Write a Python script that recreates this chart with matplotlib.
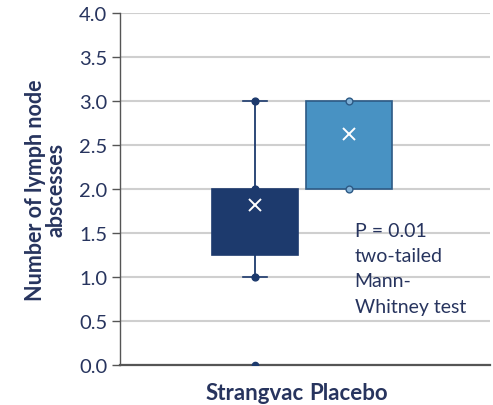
import matplotlib
matplotlib.use("Agg")
import matplotlib.pyplot as plt

# group summaries (number of lymph node abscesses)
groups = ["Strangvac", "Placebo"]
q1 = [1.25, 2.0]
q3 = [2.0, 3.0]
medians = [2.0, 3.0]
whisker_lo = [1.0, 2.0]
whisker_hi = [3.0, 3.0]
means = [1.82, 2.63]
outliers = [[0.0], []]
points = [[1.0, 2.0, 3.0], [2.0, 3.0]]

yticks = [0.0, 0.5, 1.0, 1.5, 2.0, 2.5, 3.0, 3.5, 4.0]

box_fill = ["#1d3a6d", "#4892c3"]
box_edge = ["#1d3a6d", "#2d5a85"]
dot_fill = ["#1d3a6d", "#7fb0d6"]
text_col = "#27345e"

plt.rcParams["font.family"] = ["Lato", "DejaVu Sans"]

fig = plt.figure(figsize=(4.93, 4.06), dpi=100)
ax = fig.add_axes([0.2434, 0.0985, 0.7506, 0.867])

positions = [1, 2]
for i, name in enumerate(groups):
    stats = [{
        "label": name,
        "q1": q1[i], "q3": q3[i], "med": medians[i],
        "whislo": whisker_lo[i], "whishi": whisker_hi[i],
        "mean": means[i], "fliers": outliers[i],
    }]
    ax.bxp(stats, positions=[positions[i]], widths=0.915, patch_artist=True,
           showmeans=True, showcaps=True, capwidths=0.26, manage_ticks=False,
           boxprops=dict(facecolor=box_fill[i], edgecolor=box_edge[i], lw=1.2),
           medianprops=dict(color=box_edge[i], lw=1.0, alpha=0),
           whiskerprops=dict(color=box_fill[i], lw=1.3),
           capprops=dict(color="#1d3a6d", lw=1.2, alpha=1 if i == 0 else 0),
           meanprops=dict(marker="x", markeredgecolor="white", markersize=9,
                          markeredgewidth=1.4),
           flierprops=dict(marker="o", markerfacecolor=box_fill[i],
                           markeredgecolor=box_fill[i], markersize=4.5),
           zorder=3)
    ax.scatter([positions[i]] * len(points[i]), points[i], s=24,
               facecolor=dot_fill[i], edgecolor=box_edge[i], lw=1.0, zorder=4)

ax.set_xlim(-0.436, 3.5)
ax.set_ylim(0, 4.0)
ax.set_yticks(yticks)
ax.set_yticklabels([f"{v:.1f}" for v in yticks], fontsize=14.5, color=text_col)
ax.set_xticks(positions)
ax.set_xticklabels(groups, fontsize=16, fontweight="bold", color=text_col)
ax.tick_params(axis="x", length=0, pad=12)
ax.tick_params(axis="y", length=6, width=1, color="#555555", pad=3)

ax.yaxis.grid(True, color="#cfcfcf", lw=1.5, zorder=0)
ax.set_axisbelow(True)
for side in ["top", "right"]:
    ax.spines[side].set_visible(False)
ax.spines["left"].set_color("#555555")
ax.spines["left"].set_linewidth(1.0)
ax.spines["bottom"].set_color("#555555")
ax.spines["bottom"].set_linewidth(1.6)

ax.set_ylabel("Number of lymph node\nabscesses", fontsize=15.5, fontweight="bold",
              color=text_col, linespacing=1.0, labelpad=9)

ax.text(2.06, 1.63, "P = 0.01\ntwo-tailed\nMann-\nWhitney test", fontsize=14,
        color=text_col, va="top", ha="left", linespacing=1.6, zorder=5)

fig.savefig("out.png", dpi=100)
